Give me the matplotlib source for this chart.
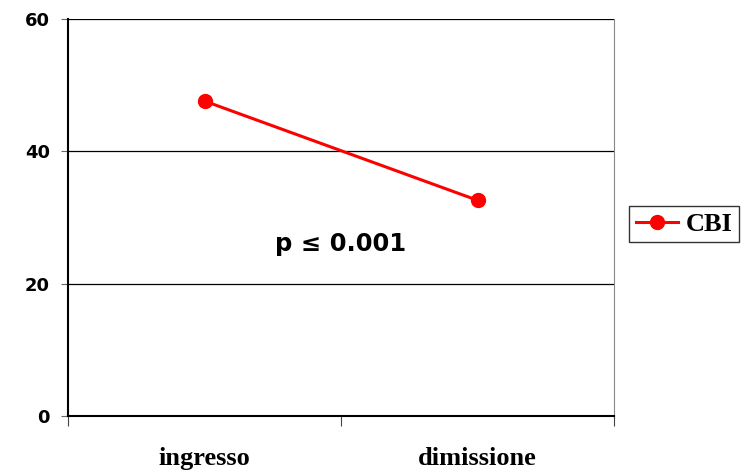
import matplotlib.pyplot as plt

# Data
categories = ["ingresso", "dimissione"]
cbi_values = [47.6, 32.6]
y_ticks = [0, 20, 40, 60]

fig = plt.figure(figsize=(7.47, 4.74), dpi=100)
ax = fig.add_axes([68 / 747, 1 - 416 / 474, (614 - 68) / 747, (416 - 19) / 474])

x_pos = [i + 0.5 for i in range(len(categories))]
ax.plot(x_pos, cbi_values, color="#ff0000", linewidth=2.2, marker="o",
        markersize=10, label="CBI", zorder=3)

ax.set_xlim(0, len(categories))
ax.set_ylim(0, 60)

# horizontal gridlines
ax.set_yticks(y_ticks)
ax.yaxis.grid(True, color="black", linewidth=0.9)
ax.set_axisbelow(True)

# category labels centred, boundary ticks outward
ax.set_xticks(range(len(categories) + 1))
ax.set_xticklabels([])
ax.set_xticks(x_pos, minor=True)
ax.set_xticklabels(categories, minor=True, fontfamily="Liberation Serif",
                   fontweight="bold", fontsize=19)
ax.tick_params(axis="x", which="minor", length=0, pad=22.5)
ax.tick_params(axis="x", which="major", length=7, direction="out", color="#444444")
ax.tick_params(axis="y", length=5, direction="out", color="#666666", pad=8)
for lbl in ax.get_yticklabels():
    lbl.set_fontweight("bold")
    lbl.set_fontsize(13)
    lbl.set_fontfamily("DejaVu Sans")

ax.spines["left"].set_linewidth(1.5)
ax.spines["bottom"].set_linewidth(1.5)
ax.spines["top"].set_visible(False)
ax.spines["right"].set_color("#888888")
ax.spines["right"].set_linewidth(0.8)

ax.text(1.0, 26, "p \u2264 0.001", ha="center", va="center", fontsize=17.5,
        fontweight="bold", fontfamily="DejaVu Sans")

leg = fig.legend(loc="center left", bbox_to_anchor=(629 / 747, 1 - 224 / 474),
                 frameon=True, fancybox=False, edgecolor="black",
                 prop={"family": "Liberation Serif", "weight": "bold", "size": 19},
                 handlelength=1.6, borderpad=0.25, handletextpad=0.3,
                 borderaxespad=0)
leg.get_frame().set_linewidth(1.0)

plt.savefig("out.png", dpi=100)
